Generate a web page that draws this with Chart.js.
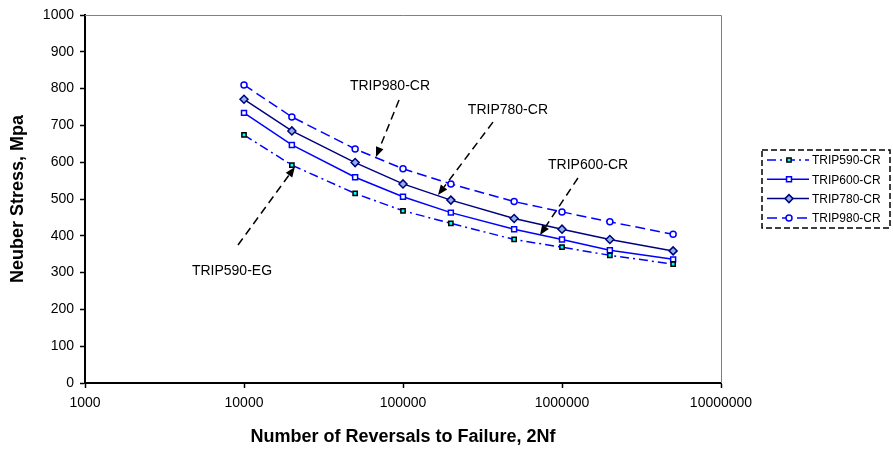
<!DOCTYPE html>
<html>
<head>
<meta charset="utf-8">
<script src="https://cdn.jsdelivr.net/npm/chart.js@4/dist/chart.umd.min.js"></script>
<style>
  html, body { margin: 0; padding: 0; background: #fff; }
  #wrap { width: 893px; height: 451px; position: relative; }
</style>
</head>
<body>
<div id="wrap"><canvas id="chart"></canvas></div>
<script>
// reversals (2Nf) and Neuber stress per steel grade
const reversals = [10000, 20000, 50000, 100000, 200000, 500000, 1000000, 2000000, 5000000];
const trip590 = [674, 592, 515, 468, 434, 390, 369, 347, 323];
const trip600 = [734, 647, 559, 506, 463, 418, 390, 361, 336];
const trip780 = [771, 685, 599, 541, 497, 447, 418, 390, 359];
const trip980 = [810, 723, 636, 582, 541, 493, 465, 438, 404];
const seriesNames = ["TRIP590-CR", "TRIP600-CR", "TRIP780-CR", "TRIP980-CR"];

const xTicks = [1000, 10000, 100000, 1000000, 10000000];
const yMin = 0, yMax = 1000, yStep = 100;

// callout labels with arrows, in data units [reversals, stress]
const noteText = ["TRIP980-CR", "TRIP780-CR", "TRIP600-CR", "TRIP590-EG"];
const noteAt = [[82800, 807], [457000, 742], [1460000, 592], [8400, 304]];
const arrowFrom = [[94400, 769], [368000, 709], [1260000, 557], [9170, 375]];
const arrowTo = [[67600, 614], [166000, 511], [727000, 402], [20900, 587]];

const FONT = "'Liberation Sans', Arial, sans-serif";
const toPts = (ys) => reversals.map((x, i) => ({ x, y: ys[i] }));

const frame = {
  id: "frame",
  beforeDatasetsDraw(chart) {
    const { ctx, chartArea: a } = chart;
    ctx.save();
    ctx.strokeStyle = "#808080";
    ctx.lineWidth = 1;
    ctx.beginPath();
    ctx.moveTo(a.left, a.top + 0.5);
    ctx.lineTo(a.right + 0.5, a.top + 0.5);
    ctx.lineTo(a.right + 0.5, a.bottom);
    ctx.stroke();
    ctx.restore();
  },
};

const callouts = {
  id: "callouts",
  afterDatasetsDraw(chart) {
    const { ctx, scales: { x, y } } = chart;
    ctx.save();
    ctx.fillStyle = "#000";
    ctx.font = "14px " + FONT;
    ctx.textAlign = "center";
    ctx.textBaseline = "middle";
    noteText.forEach((t, i) => {
      ctx.fillText(t, x.getPixelForValue(noteAt[i][0]), y.getPixelForValue(noteAt[i][1]));
    });
    ctx.strokeStyle = "#000";
    ctx.lineWidth = 1.5;
    arrowFrom.forEach((f, i) => {
      const x0 = x.getPixelForValue(f[0]), y0 = y.getPixelForValue(f[1]);
      const x1 = x.getPixelForValue(arrowTo[i][0]), y1 = y.getPixelForValue(arrowTo[i][1]);
      const ang = Math.atan2(y1 - y0, x1 - x0);
      const head = 10;
      const bx = x1 - Math.cos(ang) * head, by = y1 - Math.sin(ang) * head;
      ctx.setLineDash([8, 5]);
      ctx.beginPath();
      ctx.moveTo(x0, y0);
      ctx.lineTo(bx, by);
      ctx.stroke();
      ctx.setLineDash([]);
      ctx.beginPath();
      ctx.moveTo(x1, y1);
      ctx.lineTo(bx + Math.sin(ang) * 4, by - Math.cos(ang) * 4);
      ctx.lineTo(bx - Math.sin(ang) * 4, by + Math.cos(ang) * 4);
      ctx.closePath();
      ctx.fill();
    });
    ctx.restore();
  },
};

// boxed legend to the right of the plot, dashed frame
const boxLegend = {
  id: "boxLegend",
  afterDraw(chart) {
    const { ctx, chartArea: a } = chart;
    const left = a.right + 41, top = a.top + 135, w = 128, h = 78;
    ctx.save();
    ctx.strokeStyle = "#000";
    ctx.lineWidth = 1.5;
    ctx.setLineDash([6, 3]);
    ctx.strokeRect(left, top, w, h);
    ctx.font = "12px " + FONT;
    ctx.textBaseline = "middle";
    ctx.textAlign = "left";
    chart.data.datasets.forEach((ds, i) => {
      const cy = top + 10 + i * 19.3;
      ctx.strokeStyle = ds.borderColor;
      ctx.lineWidth = 1.5;
      ctx.setLineDash(ds.borderDash || []);
      ctx.beginPath();
      ctx.moveTo(left + 5, cy);
      ctx.lineTo(left + 47, cy);
      ctx.stroke();
      ctx.setLineDash([]);
      ctx.fillStyle = ds.pointBackgroundColor;
      ctx.strokeStyle = ds.pointBorderColor;
      ctx.lineWidth = ds.pointBorderWidth;
      Chart.helpers.drawPoint(ctx, { pointStyle: ds.pointStyle, radius: ds.pointRadius, borderWidth: ds.pointBorderWidth, rotation: 0 }, left + 27, cy);
      ctx.fillStyle = "#000";
      ctx.fillText(ds.label, left + 50, cy + 1);
    });
    ctx.restore();
  },
};

const ctx = document.getElementById("chart").getContext("2d");
new Chart(ctx, {
  type: "line",
  data: {
    datasets: [
      {
        label: seriesNames[0], data: toPts(trip590),
        borderColor: "#0000ff", borderWidth: 1.5, borderDash: [9, 4, 2, 4],
        pointStyle: "rect", pointRadius: 3, pointBorderWidth: 1.5,
        pointBorderColor: "#000", pointBackgroundColor: "#00ffff",
      },
      {
        label: seriesNames[1], data: toPts(trip600),
        borderColor: "#0000ff", borderWidth: 1.5,
        pointStyle: "rect", pointRadius: 3.5, pointBorderWidth: 1.5,
        pointBorderColor: "#0000ff", pointBackgroundColor: "#fff",
      },
      {
        label: seriesNames[2], data: toPts(trip780),
        borderColor: "#000080", borderWidth: 1.5,
        pointStyle: "rectRot", pointRadius: 4, pointBorderWidth: 1.5,
        pointBorderColor: "#000080", pointBackgroundColor: "#8db4e2",
      },
      {
        label: seriesNames[3], data: toPts(trip980),
        borderColor: "#0000ff", borderWidth: 1.5, borderDash: [10, 5],
        pointStyle: "circle", pointRadius: 3, pointBorderWidth: 1.5,
        pointBorderColor: "#0000ff", pointBackgroundColor: "#fff",
      },
    ],
  },
  options: {
    responsive: true,
    maintainAspectRatio: false,
    animation: false,
    layout: { padding: { top: 15, right: 172, left: 0, bottom: 0 } },
    elements: { line: { tension: 0 } },
    scales: {
      x: {
        type: "logarithmic",
        min: xTicks[0],
        max: xTicks[xTicks.length - 1],
        afterBuildTicks: (s) => { s.ticks = xTicks.map((v) => ({ value: v })); },
        afterFit: (s) => { s.height = 68; },
        ticks: {
          color: "#000", padding: 7, maxRotation: 0, autoSkip: false,
          font: { family: FONT, size: 14 },
          callback: (v) => String(v),
        },
        grid: { drawOnChartArea: false, drawTicks: true, tickLength: 5, tickColor: "#000", tickWidth: 1.5 },
        border: { display: true, color: "#000", width: 2 },
        title: {
          display: true, text: "Number of Reversals to Failure, 2Nf", color: "#000",
          font: { family: FONT, size: 18, weight: "bold" }, padding: { top: 0, bottom: 3 },
        },
      },
      y: {
        min: yMin,
        max: yMax,
        afterFit: (s) => { s.width = 85; },
        ticks: {
          stepSize: yStep, color: "#000", padding: 6,
          font: { family: FONT, size: 14 },
          callback: (v) => String(v),
        },
        grid: { drawOnChartArea: false, drawTicks: true, tickLength: 5, tickColor: "#000", tickWidth: 1.5 },
        border: { display: true, color: "#000", width: 2 },
        title: {
          display: true, text: "Neuber Stress, Mpa", color: "#000",
          font: { family: FONT, size: 18, weight: "bold" }, padding: { top: 7, bottom: 0 },
        },
      },
    },
    plugins: {
      legend: { display: false },
      tooltip: { enabled: false },
    },
  },
  plugins: [frame, callouts, boxLegend],
});
</script>
</body>
</html>
